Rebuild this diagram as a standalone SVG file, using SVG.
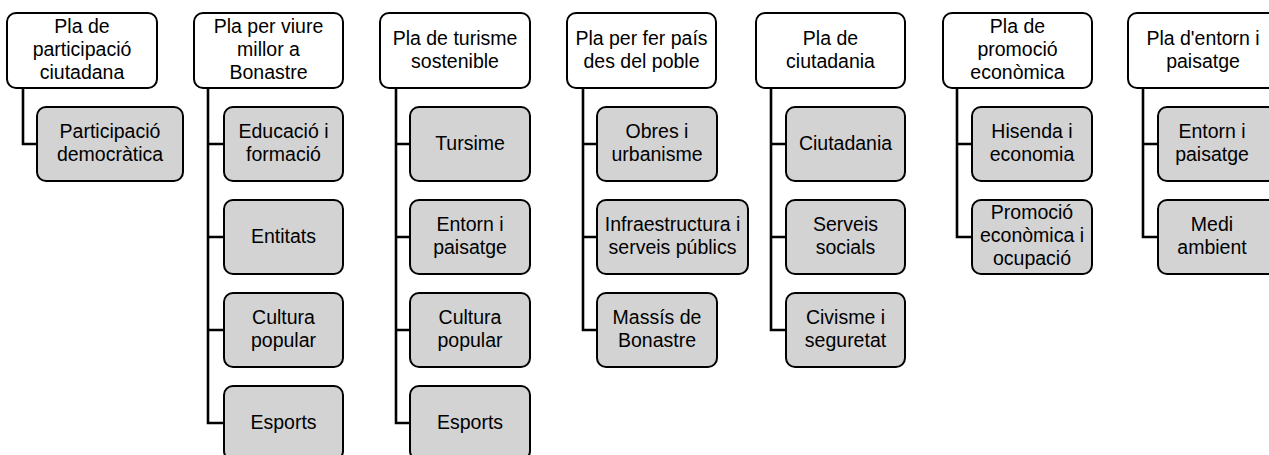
<svg xmlns="http://www.w3.org/2000/svg" width="1269" height="455" viewBox="0 0 1269 455">
<style>
.p{fill:#fff;stroke:#000;stroke-width:2}
.c{fill:#d3d3d3;stroke:#000;stroke-width:2}
.t{font-family:"Liberation Sans",Arial,sans-serif;font-size:19.5px;fill:#000;text-anchor:middle}
.ln{fill:none;stroke:#000;stroke-width:2.6}
</style>
<rect width="1269" height="455" fill="#fff"/>
<g id="connectors">
<path class="ln" d="M23 88V144H37"/>
<path class="ln" d="M208 88V423H224M208 144H224M208 237H224M208 330H224"/>
<path class="ln" d="M396 88V423H410M396 144H410M396 237H410M396 330H410"/>
<path class="ln" d="M583 88V330H597M583 144H597M583 237H597"/>
<path class="ln" d="M771 88V330H786M771 144H786M771 237H786"/>
<path class="ln" d="M957 88V237H972M957 144H972"/>
<path class="ln" d="M1143 88V237H1158M1143 144H1158"/>
</g>
<g id="p1"><rect class="p" x="7" y="13" width="150" height="75" rx="9"/><text class="t" x="82"><tspan x="82" y="33">Pla de</tspan><tspan x="82" y="56">participació</tspan><tspan x="82" y="79">ciutadana</tspan></text></g>
<g id="c1a"><rect class="c" x="37" y="107" width="146" height="74" rx="9"/><text class="t"><tspan x="110" y="138">Participació</tspan><tspan x="110" y="161">democràtica</tspan></text></g>

<g id="p2"><rect class="p" x="194" y="13" width="149" height="75" rx="9"/><text class="t"><tspan x="268.5" y="33">Pla per viure</tspan><tspan x="268.5" y="56">millor a</tspan><tspan x="268.5" y="79">Bonastre</tspan></text></g>
<g id="c2a"><rect class="c" x="224" y="107" width="119" height="74" rx="9"/><text class="t"><tspan x="283.5" y="138">Educació i</tspan><tspan x="283.5" y="161">formació</tspan></text></g>
<g id="c2b"><rect class="c" x="224" y="200" width="119" height="74" rx="9"/><text class="t" x="283.5" y="243">Entitats</text></g>
<g id="c2c"><rect class="c" x="224" y="293" width="119" height="74" rx="9"/><text class="t"><tspan x="283.5" y="324">Cultura</tspan><tspan x="283.5" y="347">popular</tspan></text></g>
<g id="c2d"><rect class="c" x="224" y="386" width="119" height="74" rx="9"/><text class="t" x="283.5" y="429">Esports</text></g>

<g id="p3"><rect class="p" x="380" y="13" width="150" height="75" rx="9"/><text class="t"><tspan x="455" y="45">Pla de turisme</tspan><tspan x="455" y="68">sostenible</tspan></text></g>
<g id="c3a"><rect class="c" x="410" y="107" width="120" height="74" rx="9"/><text class="t" x="470" y="150">Tursime</text></g>
<g id="c3b"><rect class="c" x="410" y="200" width="120" height="74" rx="9"/><text class="t"><tspan x="470" y="231">Entorn i</tspan><tspan x="470" y="254">paisatge</tspan></text></g>
<g id="c3c"><rect class="c" x="410" y="293" width="120" height="74" rx="9"/><text class="t"><tspan x="470" y="324">Cultura</tspan><tspan x="470" y="347">popular</tspan></text></g>
<g id="c3d"><rect class="c" x="410" y="386" width="120" height="74" rx="9"/><text class="t" x="470" y="429">Esports</text></g>

<g id="p4"><rect class="p" x="567" y="13" width="149" height="75" rx="9"/><text class="t"><tspan x="641.5" y="45">Pla per fer país</tspan><tspan x="641.5" y="68">des del poble</tspan></text></g>
<g id="c4a"><rect class="c" x="597" y="107" width="120" height="74" rx="9"/><text class="t"><tspan x="657" y="138">Obres i</tspan><tspan x="657" y="161">urbanisme</tspan></text></g>
<g id="c4b"><rect class="c" x="597" y="200" width="151" height="74" rx="9"/><text class="t"><tspan x="672.5" y="231">Infraestructura i</tspan><tspan x="672.5" y="254">serveis públics</tspan></text></g>
<g id="c4c"><rect class="c" x="597" y="293" width="120" height="74" rx="9"/><text class="t"><tspan x="657" y="324">Massís de</tspan><tspan x="657" y="347">Bonastre</tspan></text></g>

<g id="p5"><rect class="p" x="756" y="13" width="149" height="75" rx="9"/><text class="t"><tspan x="830.5" y="45">Pla de</tspan><tspan x="830.5" y="68">ciutadania</tspan></text></g>
<g id="c5a"><rect class="c" x="786" y="107" width="119" height="74" rx="9"/><text class="t" x="845.5" y="150">Ciutadania</text></g>
<g id="c5b"><rect class="c" x="786" y="200" width="119" height="74" rx="9"/><text class="t"><tspan x="845.5" y="231">Serveis</tspan><tspan x="845.5" y="254">socials</tspan></text></g>
<g id="c5c"><rect class="c" x="786" y="293" width="119" height="74" rx="9"/><text class="t"><tspan x="845.5" y="324">Civisme i</tspan><tspan x="845.5" y="347">seguretat</tspan></text></g>

<g id="p6"><rect class="p" x="943" y="13" width="149" height="75" rx="9"/><text class="t"><tspan x="1017.5" y="33">Pla de</tspan><tspan x="1017.5" y="56">promoció</tspan><tspan x="1017.5" y="79">econòmica</tspan></text></g>
<g id="c6a"><rect class="c" x="972" y="107" width="120" height="74" rx="9"/><text class="t"><tspan x="1032" y="138">Hisenda i</tspan><tspan x="1032" y="161">economia</tspan></text></g>
<g id="c6b"><rect class="c" x="972" y="200" width="120" height="74" rx="9"/><text class="t"><tspan x="1032" y="219">Promoció</tspan><tspan x="1032" y="242">econòmica i</tspan><tspan x="1032" y="265">ocupació</tspan></text></g>

<g id="p7"><rect class="p" x="1128" y="13" width="150" height="75" rx="9"/><text class="t"><tspan x="1203" y="45">Pla d'entorn i</tspan><tspan x="1203" y="68">paisatge</tspan></text></g>
<g id="c7a"><rect class="c" x="1158" y="107" width="120" height="74" rx="9"/><text class="t"><tspan x="1212" y="138">Entorn i</tspan><tspan x="1212" y="161">paisatge</tspan></text></g>
<g id="c7b"><rect class="c" x="1158" y="200" width="120" height="74" rx="9"/><text class="t"><tspan x="1212" y="231">Medi</tspan><tspan x="1212" y="254">ambient</tspan></text></g>
</svg>
